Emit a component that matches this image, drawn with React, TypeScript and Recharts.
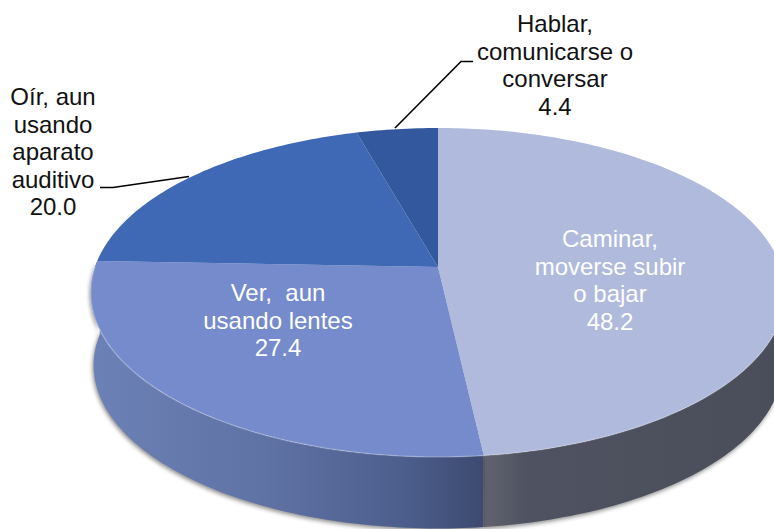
import { PieChart, Pie } from 'recharts';

const categories = ['Caminar', 'Ver', 'Oir', 'Hablar'];
const values = [48.2, 27.4, 20.0, 4.4];
const labelLines = [
  ['Caminar,', 'moverse subir', 'o bajar', '48.2'],
  ['Ver,  aun', 'usando lentes', '27.4'],
  ['Oír, aun', 'usando', 'aparato', 'auditivo', '20.0'],
  ['Hablar,', 'comunicarse o', 'conversar', '4.4'],
];

const topColors = ['#AFBADC', '#758BCB', '#3F68B5', '#33589D'];
const wallFills = ['url(#wallCaminar)', 'url(#wallVer)', 'none', 'none'];

// where each text block sits, and its leader line if it has one
const labelLayout = [
  { x: 610, y: 247, color: '#fff', leader: '' },
  { x: 278, y: 301, color: '#fff', leader: '' },
  { x: 53, y: 105, color: '#111', leader: '100,187.5 113,187.5 189,176.5' },
  { x: 555, y: 32, color: '#111', leader: '473,61.5 461,61.5 395,128' },
];

const chartData = categories.map((name, i) => ({ name, value: values[i] }));

// the pie is seen in perspective, so the apex is above the ellipse's middle
const TILT = 0.468;
const PERSPECTIVE = 0.155;
const WALL_DEPTH = 73;

const project = (cx: number, cy: number, r: number, clockDeg: number, dy = 0) => {
  const a = (clockDeg * Math.PI) / 180;
  const u = Math.sin(a);
  const v = -Math.cos(a);
  const den = 1 - PERSPECTIVE * v;
  return [cx + (r * u) / den, cy + (r * TILT * v) / den + dy];
};

const arcPoints = (cx: number, cy: number, r: number, from: number, to: number, dy = 0) => {
  const pts = [];
  const steps = Math.max(2, Math.ceil(to - from));
  for (let i = 0; i <= steps; i++) {
    pts.push(project(cx, cy, r, from + ((to - from) * i) / steps, dy));
  }
  return pts;
};

const toPath = (pts: number[][]) =>
  'M' + pts.map((p) => `${p[0].toFixed(1)},${p[1].toFixed(1)}`).join('L') + 'Z';

const indexOf = (props: any) => categories.indexOf(props.name ?? props.payload?.name);

const TopFace = (props: any) => {
  const { cx, cy, outerRadius, startAngle, endAngle } = props;
  const i = indexOf(props);
  const from = 90 - startAngle;
  const to = 90 - endAngle;
  const edgeFrom = Math.max(from, 90);
  const edgeTo = Math.min(to, 270);
  const edge = edgeTo > edgeFrom ? arcPoints(cx, cy, outerRadius, edgeFrom, edgeTo) : [];
  return (
    <g>
      <path d={toPath([[cx, cy], ...arcPoints(cx, cy, outerRadius, from, to)])} fill={topColors[i]} />
      {edge.length > 0 && (
        <polyline
          points={edge.map((p) => p.join(',')).join(' ')}
          fill="none"
          stroke="#fff"
          strokeOpacity={0.22}
          strokeWidth={1.5}
        />
      )}
    </g>
  );
};

const SideWall = (props: any) => {
  const { cx, cy, outerRadius, startAngle, endAngle } = props;
  const i = indexOf(props);
  const from = Math.max(90 - startAngle, 88);
  const to = Math.min(90 - endAngle, 272);
  if (to <= from || wallFills[i] === 'none') return <g />;
  const top = arcPoints(cx, cy, outerRadius, from, to);
  const bottom = arcPoints(cx, cy, outerRadius * 0.992, from, to, WALL_DEPTH).reverse();
  return (
    <path
      d={toPath([...top, ...bottom])}
      fill={wallFills[i]}
      style={{ filter: 'drop-shadow(-1px 2px 2px rgba(0,0,0,0.45))' }}
    />
  );
};

const SliceLabel = (props: any) => {
  const i = indexOf(props);
  const layout = labelLayout[i];
  return (
    <g>
      {layout.leader && <polyline points={layout.leader} fill="none" stroke="#000" strokeWidth={1.6} />}
      <text
        x={layout.x}
        y={layout.y}
        textAnchor="middle"
        fontFamily="'Liberation Sans', Arial, sans-serif"
        fontSize={24}
        fill={layout.color}
        style={{ whiteSpace: 'pre' }}
      >
        {labelLines[i].map((line, n) => (
          <tspan key={n} x={layout.x} dy={n === 0 ? 0 : 27.6}>
            {line}
          </tspan>
        ))}
      </text>
    </g>
  );
};

export default function App() {
  return (
    <div style={{ position: 'absolute', left: 0, top: 0, width: 774, height: 529, background: '#fff' }}>
      <PieChart width={774} height={529} margin={{ top: 0, right: 0, bottom: 0, left: 0 }}>
        <defs>
          <linearGradient id="wallVer" x1="0" y1="0" x2="1" y2="0">
            <stop offset="0%" stopColor="#6C81B6" />
            <stop offset="45%" stopColor="#5F72A4" />
            <stop offset="80%" stopColor="#4C5E8C" />
            <stop offset="100%" stopColor="#3C4A70" />
          </linearGradient>
          <linearGradient id="wallCaminar" x1="0" y1="0" x2="1" y2="0">
            <stop offset="0%" stopColor="#62636F" />
            <stop offset="14%" stopColor="#4F5361" />
            <stop offset="100%" stopColor="#4A4E5A" />
          </linearGradient>
        </defs>
        <Pie
          data={chartData}
          dataKey="value"
          nameKey="name"
          cx={438}
          cy={267}
          outerRadius={343}
          startAngle={90}
          endAngle={-270}
          stroke="none"
          shape={SideWall}
          isAnimationActive={false}
        />
        <Pie
          data={chartData}
          dataKey="value"
          nameKey="name"
          cx={438}
          cy={267}
          outerRadius={343}
          startAngle={90}
          endAngle={-270}
          stroke="none"
          shape={TopFace}
          label={SliceLabel}
          labelLine={false}
          isAnimationActive={false}
        />
      </PieChart>
    </div>
  );
}
